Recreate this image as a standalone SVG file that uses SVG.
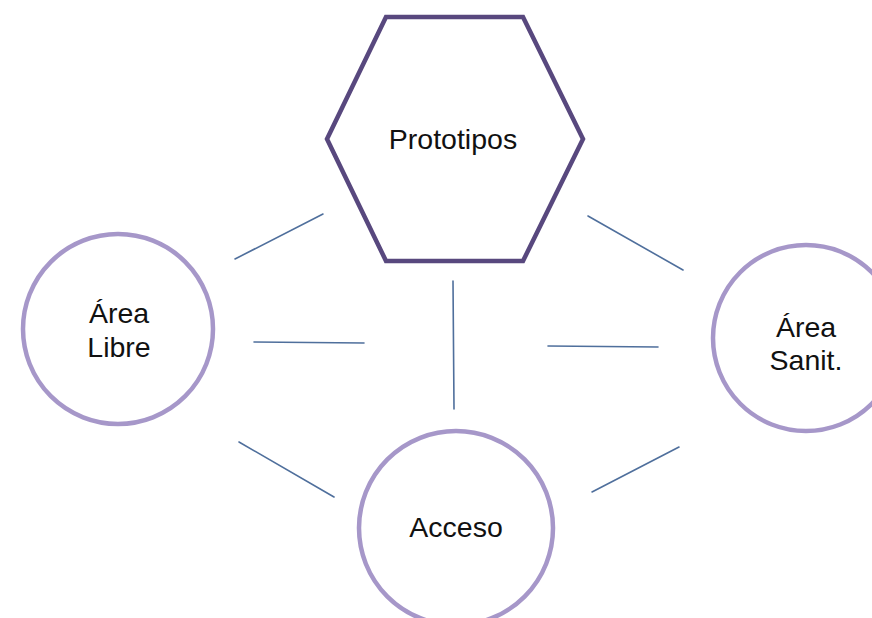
<svg xmlns="http://www.w3.org/2000/svg" width="872" height="618" viewBox="0 0 872 618">
<style>
.lbl{font-family:"Liberation Sans",Arial,sans-serif;font-size:28.5px;fill:#111;text-anchor:middle}
.circ{fill:#fff;stroke:#a697c9;stroke-width:4.5}
.hex{fill:#fff;stroke:#58487e;stroke-width:4.5;stroke-linejoin:miter}
.conn line{stroke:#4f6f9c;stroke-width:1.6;stroke-linecap:round}
</style>
<rect width="872" height="618" fill="#fff"/>
<g id="connectors" class="conn">
<line x1="235" y1="259" x2="323" y2="214"/>
<line x1="254" y1="342" x2="364" y2="343"/>
<line x1="453" y1="281" x2="454" y2="409"/>
<line x1="588" y1="216" x2="683" y2="270"/>
<line x1="548" y1="346" x2="658" y2="347"/>
<line x1="239" y1="442" x2="334" y2="497"/>
<line x1="592" y1="492" x2="679" y2="447"/>
</g>
<g id="prototipos">
<polygon class="hex" points="386,17 523,17 583,139 523,261 386,261 327,139"/>
<text class="lbl" x="453" y="149">Prototipos</text>
</g>
<g id="area-libre">
<circle class="circ" cx="118" cy="329" r="95"/>
<text class="lbl" x="119" y="323">Área</text>
<text class="lbl" x="119" y="357">Libre</text>
</g>
<g id="area-sanit">
<circle class="circ" cx="806" cy="338" r="93"/>
<text class="lbl" x="806" y="337">Área</text>
<text class="lbl" x="806" y="370">Sanit.</text>
</g>
<g id="acceso">
<circle class="circ" cx="456" cy="528" r="97"/>
<text class="lbl" x="456" y="537">Acceso</text>
</g>
</svg>
